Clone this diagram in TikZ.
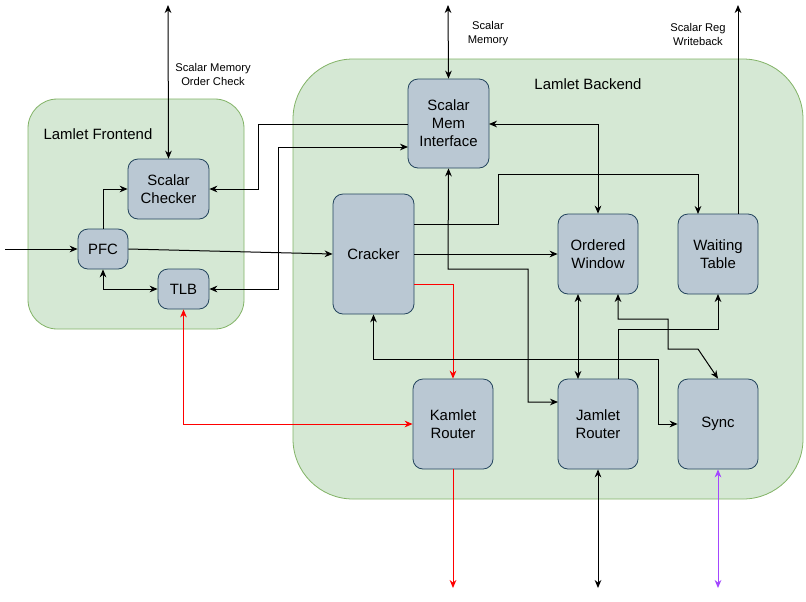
\documentclass[tikz,border=0pt]{standalone}
\usepackage{fontspec}
\setmainfont{Liberation Sans}
\usetikzlibrary{arrows.meta}
\definecolor{grfill}{HTML}{D5E8D4}
\definecolor{grline}{HTML}{82B366}
\definecolor{bxfill}{HTML}{BAC8D3}
\definecolor{bxline}{HTML}{23445D}
\definecolor{purp}{HTML}{A347FF}
\begin{document}
\begin{tikzpicture}[x=0.75pt,y=-0.75pt,
  cont/.style={draw=grline,fill=grfill,line width=0.6pt},
  blk/.style={draw=bxline,fill=bxfill,rounded corners=7.5pt,line width=0.6pt,align=center,font=\fontsize{11.2}{13.5}\selectfont,inner sep=0pt},
  lbl/.style={font=\fontsize{8.4}{10.5}\selectfont,align=center},
  ttl/.style={font=\fontsize{11.2}{13.5}\selectfont},
  con/.style={draw=black,line width=0.75pt},
  tip/.style={-{Stealth[length=6pt,width=5pt]}},
  tips/.style={{Stealth[length=6pt,width=5pt]}-{Stealth[length=6pt,width=5pt]}}]
\useasboundingbox (0,0) rectangle (806,601);
\fill[white] (0,0) rectangle (806,601);
\draw[cont,rounded corners=22pt] (28,99) rectangle (244,329);
\draw[cont,rounded corners=45pt] (293,59) rectangle (803,499);
\node[ttl] (tf) at (98,134) {Lamlet Frontend};
\node[ttl] (tb) at (588,84) {Lamlet Backend};
\newcommand{\bx}[6]{\node[blk,minimum width=#4*0.75pt,minimum height=#5*0.75pt] (#1) at (#2,#3) {#6};}
\bx{smi}{448.5}{123.5}{81}{89}{Scalar\\Mem\\Interface}
\bx{sc}{168.5}{189}{81}{60}{Scalar\\Checker}
\bx{pfc}{103}{249}{50}{40}{PFC}
\bx{tlb}{183.5}{289}{51}{40}{TLB}
\bx{cr}{373.5}{254}{81}{120}{Cracker}
\bx{ow}{598}{254}{80}{80}{Ordered\\Window}
\bx{wt}{718}{254}{80}{80}{Waiting\\Table}
\bx{kr}{453}{424}{80}{90}{Kamlet\\Router}
\bx{jr}{598}{424}{80}{90}{Jamlet\\Router}
\bx{sy}{718}{424}{80}{90}{Sync}
\coordinate (t1) at (168,5);
\coordinate (t2) at (448,5);
\coordinate (t3) at (738,5);
\coordinate (in) at (5,249);
\coordinate (b1) at (453,588);
\coordinate (b2) at (598,588);
\coordinate (b3) at (718,588);
\node[lbl] (l1) at (213,74) {Scalar Memory\\Order Check};
\node[lbl] (l2) at (488,34) {Scalar\\Memory};
\node[lbl] (l3) at (698,34) {Scalar Reg\\Writeback};
\draw[con,tips] (t1) -- (sc.north);
\draw[con,tips] (t2) -- (smi.north);
\draw[con,tip] (738,214) -- (t3);
\draw[con,tip] (in) -- (pfc.west);
\draw[con,tip] (pfc.north) |- (sc.west);
\draw[con,tips] (pfc.south) |- (tlb.west);
\draw[con,tip] (pfc.east) -- (cr.west);
\draw[con,tip] (408,124) -- (258,124) |- (sc.east);
\draw[con,tips] (tlb.east) -- (278,289) |- (408,147);
\draw[con,tips] (489,124) -| (ow.north);
\draw[con,tip] (414,224) -- (498,224) |- (698,174) -- (698,214);
\draw[con,tip] (414,254) -- (ow.west);
\draw[con,tip,red] (414,284) -| (kr.north);
\draw[con,tips] (smi.south) -- (448,269) -| (528,402) -- (558,402);
\draw[con,tips] (cr.south) |- (658,359) |- (sy.west);
\draw[con,tips] (578,294) -- (578,379);
\draw[con,tips] (618,294) |- (668,319) |- (698,349) -- (sy.north);
\draw[con,tip] (618,379) |- (718,329) -- (718,294);
\draw[con,tips,red] (tlb.south) |- (kr.west);
\draw[con,tip,red] (kr.south) -- (b1);
\draw[con,tips] (jr.south) -- (b2);
\draw[con,tips,purp] (sy.south) -- (b3);
\end{tikzpicture}
\end{document}
